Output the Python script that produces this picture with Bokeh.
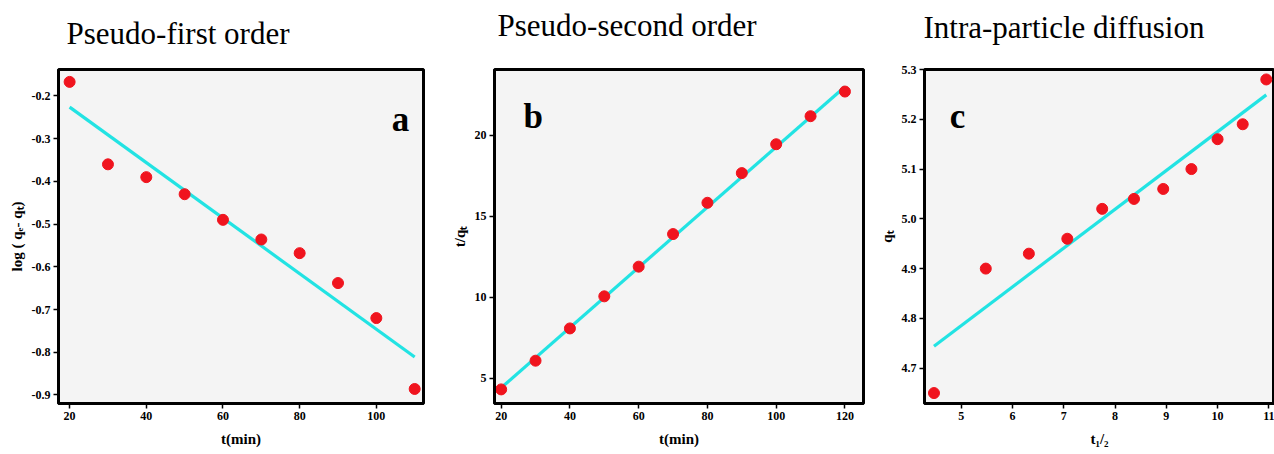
from bokeh.plotting import figure
from bokeh.layouts import row
from bokeh.models import FixedTicker, PrintfTickFormatter, Range1d, Label, Title
from bokeh.embed import file_html
from bokeh.resources import INLINE

# ---- data ----
t_a = [20, 30, 40, 50, 60, 70, 80, 90, 100, 110]
log_qe_qt = [-0.167, -0.36, -0.39, -0.43, -0.49, -0.536, -0.568, -0.638, -0.72, -0.886]
fit_a_x = [20, 110]
fit_a_y = [-0.226, -0.811]

t_b = [20, 30, 40, 50, 60, 70, 80, 90, 100, 110, 120]
t_over_qt = [4.31, 6.08, 8.07, 10.05, 11.88, 13.89, 15.82, 17.65, 19.43, 21.16, 22.68]
fit_b_x = [20, 120]
fit_b_y = [4.41, 22.98]

t_half = [4.47, 5.48, 6.32, 7.07, 7.75, 8.37, 8.94, 9.49, 10.0, 10.49, 10.95]
q_t = [4.65, 4.90, 4.93, 4.96, 5.02, 5.04, 5.06, 5.10, 5.16, 5.19, 5.28]
fit_c_x = [4.47, 10.95]
fit_c_y = [4.744, 5.249]

titles = ["Pseudo-first order", "Pseudo-second order", "Intra-particle diffusion"]
xticks_a = [20, 40, 60, 80, 100]
yticks_a = [-0.9, -0.8, -0.7, -0.6, -0.5, -0.4, -0.3, -0.2]
xticks_b = [20, 40, 60, 80, 100, 120]
yticks_b = [5, 10, 15, 20]
xticks_c = [5, 6, 7, 8, 9, 10, 11]
yticks_c = [4.7, 4.8, 4.9, 5.0, 5.1, 5.2, 5.3]

SERIF = "Liberation Serif"
RED = "#f0141e"
CYAN = "#22e3e3"
H = 454


def make_panel(width, bl, br, bt, bb, xr, yr, xt, yt, xfmt, yfmt, title, toff, gap,
               xlabel, ylabel, xs, ys, fx, fy, letter, lx, ly):
    p = figure(width=width, height=H, output_backend="svg", toolbar_location=None,
               x_range=Range1d(*xr), y_range=Range1d(*yr),
               min_border_left=bl, min_border_right=br, min_border_top=bt, min_border_bottom=bb)
    # spacer between the title and the frame
    p.add_layout(Title(text=" ", text_font_size="1px", standoff=gap), "above")
    p.title.text = title
    p.title.text_font = SERIF
    p.title.text_font_style = "normal"
    p.title.text_font_size = "31px"
    p.title.text_color = "black"
    p.title.align = "left"
    p.title.vertical_align = "bottom"
    p.title.offset = toff
    p.title.standoff = 0
    p.background_fill_color = "#f4f4f4"
    p.border_fill_color = "white"
    p.outline_line_color = "black"
    p.outline_line_width = 3
    p.grid.visible = False
    p.xaxis.ticker = FixedTicker(ticks=xt)
    p.yaxis.ticker = FixedTicker(ticks=yt)
    p.xaxis.formatter = PrintfTickFormatter(format=xfmt)
    p.yaxis.formatter = PrintfTickFormatter(format=yfmt)
    for ax in (p.xaxis, p.yaxis):
        ax.axis_line_width = 3
        ax.major_tick_line_width = 1.5
        ax.major_tick_out = 5
        ax.major_tick_in = 0
        ax.minor_tick_line_color = None
        ax.major_label_text_font = SERIF
        ax.major_label_text_font_style = "bold"
        ax.major_label_text_font_size = "12px"
        ax.major_label_text_color = "black"
        ax.axis_label_text_font = SERIF
        ax.axis_label_text_font_style = "bold"
        ax.axis_label_text_font_size = "15px"
        ax.axis_label_text_color = "black"
    p.xaxis.major_label_standoff = 3
    p.xaxis.axis_label_standoff = 8
    p.yaxis.major_label_standoff = 3
    p.yaxis.axis_label_standoff = 4
    p.xaxis.axis_label = xlabel
    p.yaxis.axis_label = ylabel
    p.line(fx, fy, line_color=CYAN, line_width=3.2)
    p.scatter(xs, ys, size=11, fill_color=RED, line_color=RED)
    p.add_layout(Label(x=lx, y=ly, text=letter, text_font=SERIF, text_font_style="bold",
                       text_font_size="35px", text_align="center", text_baseline="alphabetic",
                       text_color="black"))
    return p


pa = make_panel(440, 58, 17, 66, 51, (17.1, 112.3), (-0.92, -0.138), xticks_a, yticks_a,
                "%d", "%.1f", titles[0], 8, 16, "t(min)", "log ( qₑ- qₜ)",
                t_a, log_qe_qt, fit_a_x, fit_a_y, "a", 106.3, -0.255)
pb = make_panel(430, 54, 7, 69, 47, (18.06, 125.4), (3.44, 24.04), xticks_b, yticks_b,
                "%d", "%d", titles[1], 3, 24, "t(min)", "t/qₜ",
                t_b, t_over_qt, fit_b_x, fit_b_y, "b", 29.3, 21.14)
pc = make_panel(404, 54, 0, 69, 47, (4.285, 11.11), (4.629, 5.3), xticks_c, yticks_c,
                "%d", "%.1f", titles[2], -1, 22, "t₁/₂", "qₜ",
                t_half, q_t, fit_c_x, fit_c_y, "c", 4.93, 5.205)

layout = row(pa, pb, pc)
open("out.html", "w").write(file_html(layout, INLINE))
